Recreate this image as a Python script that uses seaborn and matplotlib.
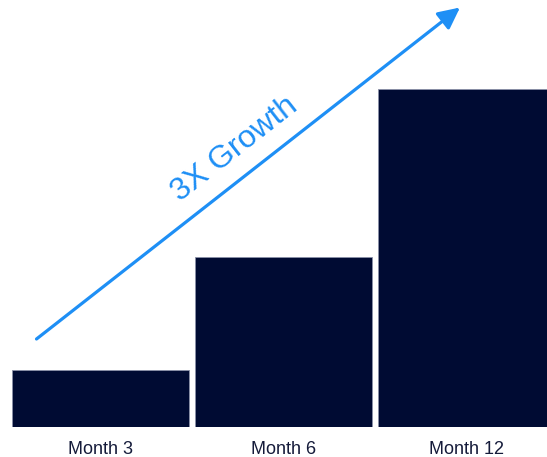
import matplotlib
matplotlib.use("Agg")
import matplotlib.pyplot as plt
import seaborn as sns
import pandas as pd

# Relative revenue index by milestone (Month 12 = 100)
months = ["Month 3", "Month 6", "Month 12"]
values = [17, 50.3, 100]
headline = "3X Growth"

bar_color = "#000B33"
accent = "#1E8FF5"
label_color = "#151B3A"

sns.set_theme(style="white")
plt.rcParams["font.family"] = ["Liberation Sans", "DejaVu Sans"]

df = pd.DataFrame({"month": months, "value": values})

fig = plt.figure(figsize=(5.47, 4.57), dpi=100)
ax = fig.add_axes([0, 0.065, 1, 0.935])

sns.barplot(data=df, x="month", y="value", hue="month",
            palette=[bar_color] * len(months), legend=False, saturation=1,
            width=0.967, edgecolor="#8a90a8", linewidth=0.6, ax=ax)

ax.set_xlim(-0.5475, 2.4415)
ax.set_ylim(0, 126.4)
ax.set_xlabel("")
ax.set_ylabel("")
ax.set_yticks([])
ax.tick_params(axis="x", length=0, pad=10, labelsize=13, labelcolor=label_color)
for s in ax.spines.values():
    s.set_visible(False)

# Growth arrow across the chart
ax.annotate("", xy=(460, 449.5), xytext=(36.5, 118),
            xycoords="figure pixels", textcoords="figure pixels",
            arrowprops=dict(arrowstyle="-|>,head_length=0.65,head_width=0.32",
                            mutation_scale=20, lw=2.3, color=accent,
                            shrinkA=0, shrinkB=0))

fig.text(235 / 547, 1 - 149 / 457, headline, rotation=38, color=accent,
         fontsize=23, ha="center", va="center", rotation_mode="anchor")

fig.savefig("out.png", dpi=100)
